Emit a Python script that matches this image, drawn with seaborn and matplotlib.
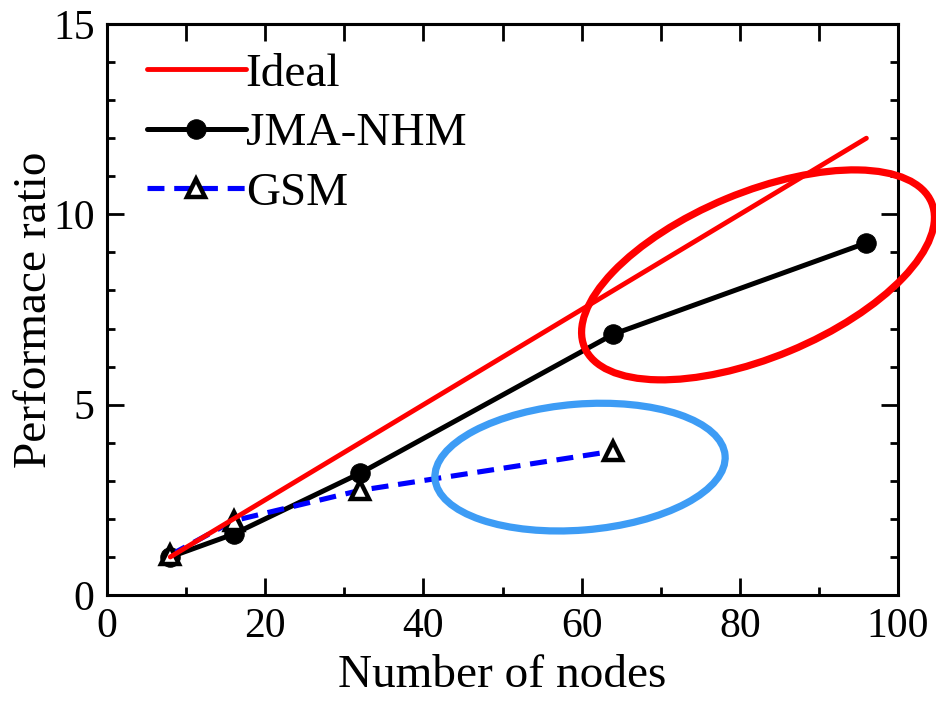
import matplotlib
matplotlib.use("Agg")
import matplotlib.pyplot as plt
import seaborn as sns
import pandas as pd
from matplotlib.patches import Ellipse
from matplotlib.transforms import ScaledTranslation
from matplotlib.ticker import MultipleLocator

# ---- data ----
ideal_nodes = [8, 96]
ideal_ratio = [1.0, 12.0]
jma_nodes = [8, 16, 32, 64, 96]
jma_ratio = [1.0, 1.6, 3.2, 6.85, 9.25]
gsm_nodes = [8, 16, 32, 64]
gsm_ratio = [1.05, 1.95, 2.75, 3.78]
series_names = ["Ideal", "JMA-NHM", "GSM"]
x_ticks = [0, 20, 40, 60, 80, 100]
y_ticks = [0, 5, 10, 15]
x_label = "Number of nodes"
y_label = "Performace ratio"

sns.set_theme(style="ticks")
plt.rcParams["font.family"] = ["Liberation Serif", "DejaVu Serif"]
for k in ["text.color", "axes.labelcolor", "xtick.color", "ytick.color"]:
    plt.rcParams[k] = "black"

FS = 34
TFS = 30
fig = plt.figure(figsize=(9.37, 7.02), dpi=100)
ax = fig.add_axes([0.1142, 0.1524, 0.8442, 0.8134])

df_jma = pd.DataFrame({"x": jma_nodes, "y": jma_ratio})
df_gsm = pd.DataFrame({"x": gsm_nodes, "y": gsm_ratio})
df_ideal = pd.DataFrame({"x": ideal_nodes, "y": ideal_ratio})

sns.lineplot(data=df_jma, x="x", y="y", ax=ax, color="black", lw=3.6,
             marker="o", markersize=14, markerfacecolor="black",
             markeredgecolor="black", label=series_names[1], zorder=3)
sns.lineplot(data=df_gsm, x="x", y="y", ax=ax, color="#0000ff", lw=3.7,
             linestyle=(0, (3.3, 1.9)), marker="^", markersize=12.5,
             markerfacecolor="white", markeredgecolor="black",
             markeredgewidth=3.2, label=series_names[2], zorder=4)
sns.lineplot(data=df_ideal, x="x", y="y", ax=ax, color="#ff0000", lw=3.5,
             label=series_names[0], zorder=5)

# annotation ellipses (sizes in inches, centred at data points)
for (cx, cy, w, h, ang, col) in [(82.3, 8.41, 3.76, 1.65, 22.6, "#ff0000"),
                                 (59.8, 3.36, 2.91, 1.26, 4.6, "#3d9cf5")]:
    e = Ellipse((0, 0), w, h, angle=ang, fill=False, edgecolor=col, lw=5.2,
                transform=fig.dpi_scale_trans + ScaledTranslation(cx, cy, ax.transData),
                clip_on=False, zorder=6)
    ax.add_patch(e)

ax.set_xlim(0, 100)
ax.set_ylim(0, 15)
ax.set_xticks(x_ticks)
ax.set_yticks(y_ticks)
ax.set_xticklabels([str(t) for t in x_ticks], fontsize=TFS)
ax.set_yticklabels([str(t) for t in y_ticks], fontsize=TFS)
ax.xaxis.set_minor_locator(MultipleLocator(10))
ax.yaxis.set_minor_locator(MultipleLocator(1))
ax.tick_params(which="both", direction="in", width=2, color="black",
               bottom=True, left=True, right=True, top=False)
ax.tick_params(which="major", length=12, pad=9)
ax.tick_params(which="minor", length=6)

sec = ax.secondary_xaxis("top")
sec.set_xticks(list(range(0, 101, 10)))
sec.tick_params(direction="in", length=12, width=2, labeltop=False)
sec.spines["top"].set_linewidth(2.2)

for s in ax.spines.values():
    s.set_linewidth(2.2)
    s.set_color("black")

ax.set_xlabel(x_label, fontsize=FS, labelpad=6)
ax.set_ylabel(y_label, fontsize=FS, labelpad=-2)

h, l = ax.get_legend_handles_labels()
order = [l.index(n) for n in series_names]
ax.legend([h[i] for i in order], [l[i] for i in order], loc="upper left",
          bbox_to_anchor=(0.05, 0.95), frameon=False, fontsize=FS,
          handlelength=2.1, handletextpad=0.0, labelspacing=0.35,
          borderpad=0, borderaxespad=0)

fig.savefig("out.png", dpi=100, facecolor="white")
